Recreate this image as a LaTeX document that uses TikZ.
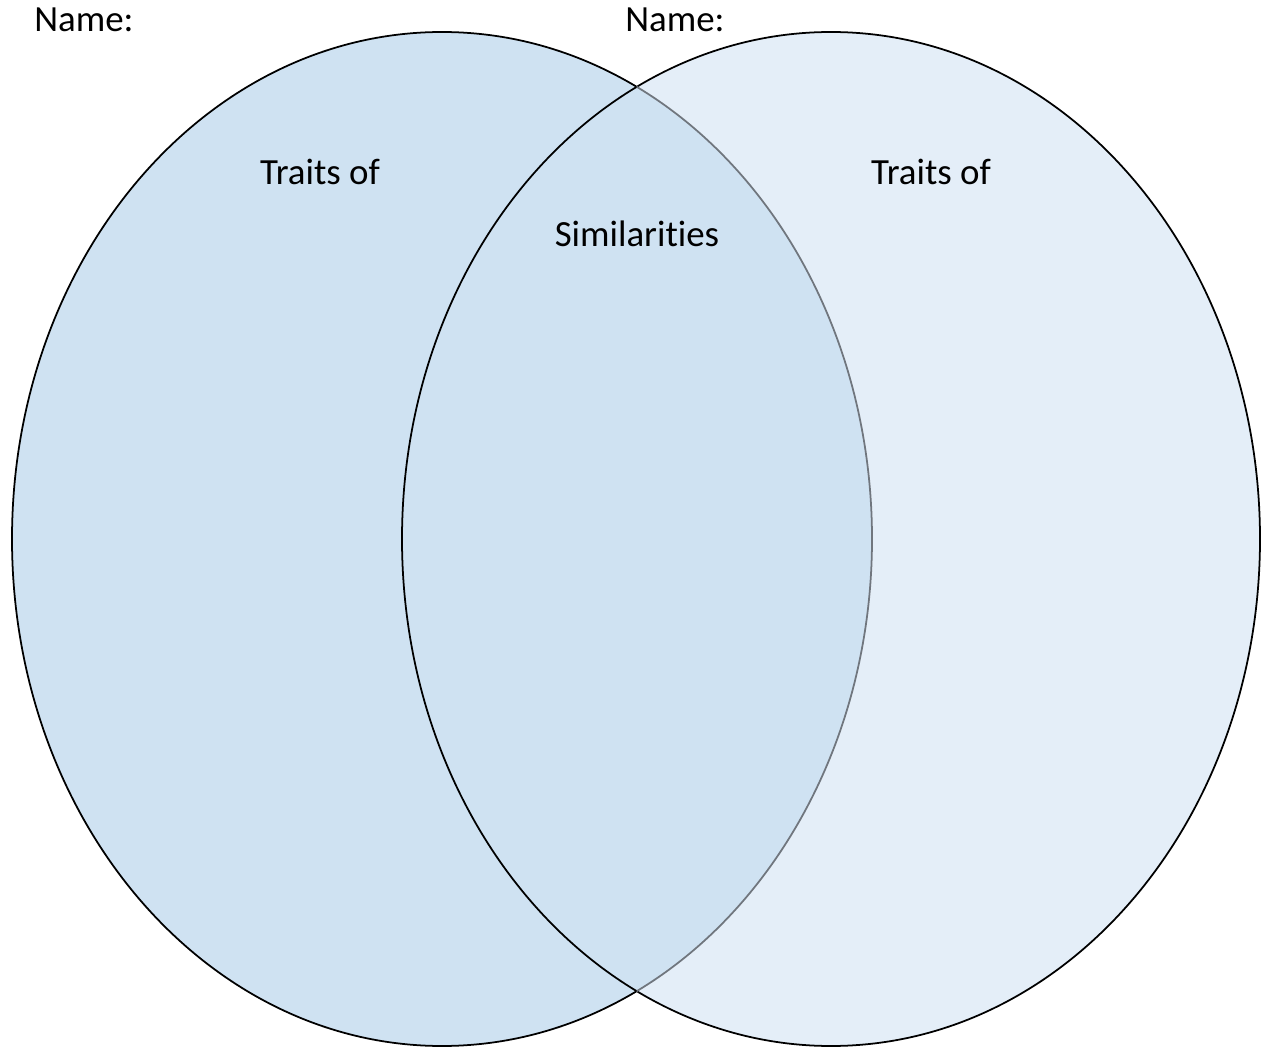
\documentclass[tikz,border=0pt]{standalone}
\usepackage{fontspec}
\setmainfont{Carlito}[Ligatures={NoCommon}]
\definecolor{setleft}{RGB}{207,226,242}
\definecolor{setright}{RGB}{228,238,248}
\definecolor{rimgray}{RGB}{112,118,126}

\begin{document}
\begin{tikzpicture}[x=0.02cm,y=-0.02cm,
  lbl/.style={font=\fontsize{21}{25}\selectfont,inner sep=0pt},
  rim/.style={line width=1pt}]
\useasboundingbox (0,0) rectangle (1262,1047);
% --- Sets (right one below, left one on top) ---
\fill[setright] (831,539) ellipse [x radius=429, y radius=507];
\fill[setleft] (442,539) ellipse [x radius=430, y radius=507];
\draw[rim] (831,539) ellipse [x radius=429, y radius=507];
\begin{scope}
  \clip (0,0) rectangle (636.5,1047);
  \draw[rim] (442,539) ellipse [x radius=430, y radius=507];
\end{scope}
\begin{scope}
  \clip (636.5,0) rectangle (1262,1047);
  \draw[rim,rimgray] (442,539) ellipse [x radius=430, y radius=507];
\end{scope}

% --- Labels ---
\node[lbl,anchor=base west] (nameleft) at (34,32) {Name:};
\node[lbl,anchor=base west] (nameright) at (625,32) {Name:};
\node[lbl,anchor=base] (traitsleft) at (320,185) {Traits of};
\node[lbl,anchor=base] (traitsright) at (931,185) {Traits of};
\node[lbl,anchor=base] (similar) at (637,247) {Similarities};
\end{tikzpicture}
\end{document}
